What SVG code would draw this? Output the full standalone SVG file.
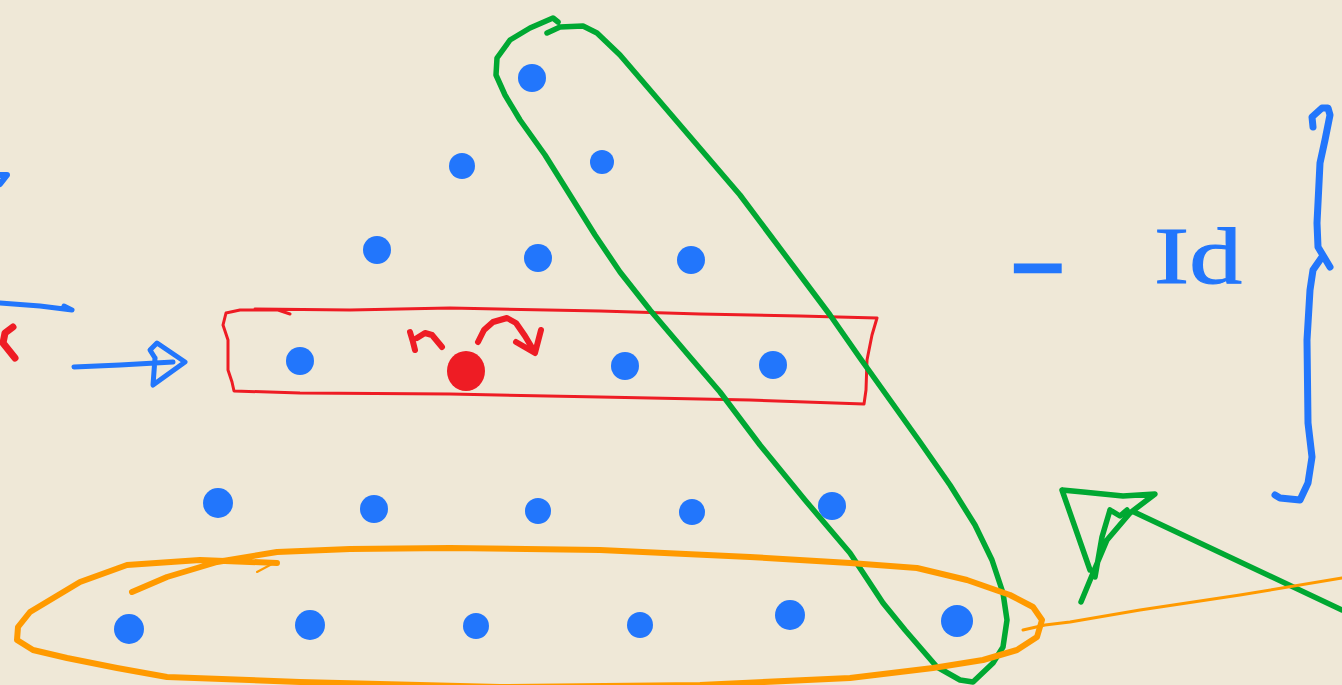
<svg xmlns="http://www.w3.org/2000/svg" width="1342" height="685" viewBox="0 0 1342 685">
<defs>
<style>
.bg{fill:#efe8d7}
.dot{fill:#2276fc}
.red{fill:none;stroke:#ee1c24;stroke-linecap:round;stroke-linejoin:round}
.green{fill:none;stroke:#00a832;stroke-width:5.5;stroke-linecap:round;stroke-linejoin:round}
.orange{fill:none;stroke:#ff9a00;stroke-linecap:round;stroke-linejoin:round}
.blue{fill:none;stroke:#2276fc;stroke-linecap:round;stroke-linejoin:round}
.lbl{fill:#2276fc;font-family:"Liberation Serif",serif}
</style>
</defs>
<rect class="bg" x="0" y="0" width="1342" height="685"/>
<g id="connectors">
<path class="blue" stroke-width="6" d="M0,175 L7,175 L0,184"/>
<path class="blue" stroke-width="5" d="M0,303 L40,306 L72,310 M64,306 L72,310"/>
<path class="red" stroke-width="7" d="M13,327 L5,333 L3,343 L15,358"/>
<path class="blue" stroke-width="5" d="M74,367 L120,365 L173,362 M155,358 L150,350 L157,343 L185,362 L153,385 L155,358"/>
<path class="red" stroke-width="6" d="M410,332 L413,342 L415,350 M417,338 L425,333 L432,335 L442,347"/>
<path class="red" stroke-width="6" d="M478,342 L484,330 L493,322 L507,318 L516,323 L525,336 L534,351 M516,342 L535,353 L541,330"/>
<path class="green" d="M1134,512 L1342,610"/>
<path class="green" d="M1062,490 L1090,570 M1062,490 L1083,492 L1123,496 L1155,494 L1130,513 L1107,540 L1093,573 L1081,602 M1110,510 L1102,537 L1095,577 M1110,510 L1120,516 L1127,510"/>
<path class="orange" stroke-width="3" d="M1023,630 L1045,625 L1070,622 L1140,610 L1240,595 L1342,578"/>
</g>
<g id="red-box">
<path class="red" stroke-width="3" d="M290,314 L278,310 L240,310 L226,313 L223,325 L228,340 L228,370 L232,382 L234,391 L300,393 L450,394 L600,397 L750,400 L864,404 L866,390 L867,360 L872,335 L877,318 L800,316 L700,314 L600,311 L450,308 L350,310 L255,309"/>
</g>
<g id="green-oval">
<path class="green" d="M547,33 L560,27 L583,26 L597,33 L620,55 L650,90 L680,125 L710,160 L740,195 L770,235 L800,275 L830,315 L860,358 L890,400 L920,442 L950,485 L975,525 L992,560 L1003,593 L1007,620 L1003,647 L993,663 L973,682 L960,680 L937,667 L905,630 L883,603 L850,553 L805,500 L760,445 L720,392 L690,357 L650,310 L620,272 L595,235 L570,195 L545,155 L520,120 L505,95 L496,75 L497,58 L510,40 L530,28 L553,18 L558,22"/>
</g>
<g id="orange-oval">
<path class="orange" stroke-width="6" d="M132,592 L167,577 L217,562 L277,552 L350,549 L450,548 L600,550 L750,557 L850,563 L917,568 L967,580 L1010,595 L1033,607 L1042,620 L1037,637 L1017,650 L983,660 L933,668 L850,678 L700,685 L500,687 L300,682 L167,677 L117,668 L67,658 L33,650 L17,640 L18,627 L30,612 L80,582 L127,565 L200,560 L277,563"/>
<path class="orange" stroke-width="2" d="M257,572 L272,564"/>
</g>
<g id="dots">
<circle class="dot" cx="532" cy="78" r="14"/>
<circle class="dot" cx="462" cy="166" r="13"/>
<circle class="dot" cx="602" cy="162" r="12"/>
<circle class="dot" cx="377" cy="250" r="14"/>
<circle class="dot" cx="538" cy="258" r="14"/>
<circle class="dot" cx="691" cy="260" r="14"/>
<circle class="dot" cx="300" cy="361" r="14"/>
<circle class="dot" cx="625" cy="366" r="14"/>
<circle class="dot" cx="773" cy="365" r="14"/>
<circle class="dot" cx="218" cy="503" r="15"/>
<circle class="dot" cx="374" cy="509" r="14"/>
<circle class="dot" cx="538" cy="511" r="13"/>
<circle class="dot" cx="692" cy="512" r="13"/>
<circle class="dot" cx="832" cy="506" r="14"/>
<circle class="dot" cx="129" cy="629" r="15"/>
<circle class="dot" cx="310" cy="625" r="15"/>
<circle class="dot" cx="476" cy="626" r="13"/>
<circle class="dot" cx="640" cy="625" r="13"/>
<circle class="dot" cx="790" cy="615" r="15"/>
<circle class="dot" cx="957" cy="621" r="16"/>
</g>
<g id="red-dot">
<ellipse cx="466" cy="371" rx="19" ry="20" fill="#ee1c24"/>
</g>
<g id="label">
<text class="lbl" x="1012" y="299" font-size="92" stroke="#2276fc" stroke-width="5">−</text>
<text class="lbl" x="1154" y="283" font-size="80" stroke="#2276fc" stroke-width="1" textLength="88" lengthAdjust="spacingAndGlyphs">Id</text>
</g>
<g id="brace">
<path class="blue" stroke-width="7" d="M1313,127 L1312,117 L1322,108 L1328,108 L1330,115 L1325,140 L1320,163 L1317,223 L1318,247 L1330,267 M1322,257 L1313,270 L1310,290 L1307,340 L1308,423 L1312,457 L1308,483 L1300,500 L1280,498 L1275,495"/>
</g>
</svg>
